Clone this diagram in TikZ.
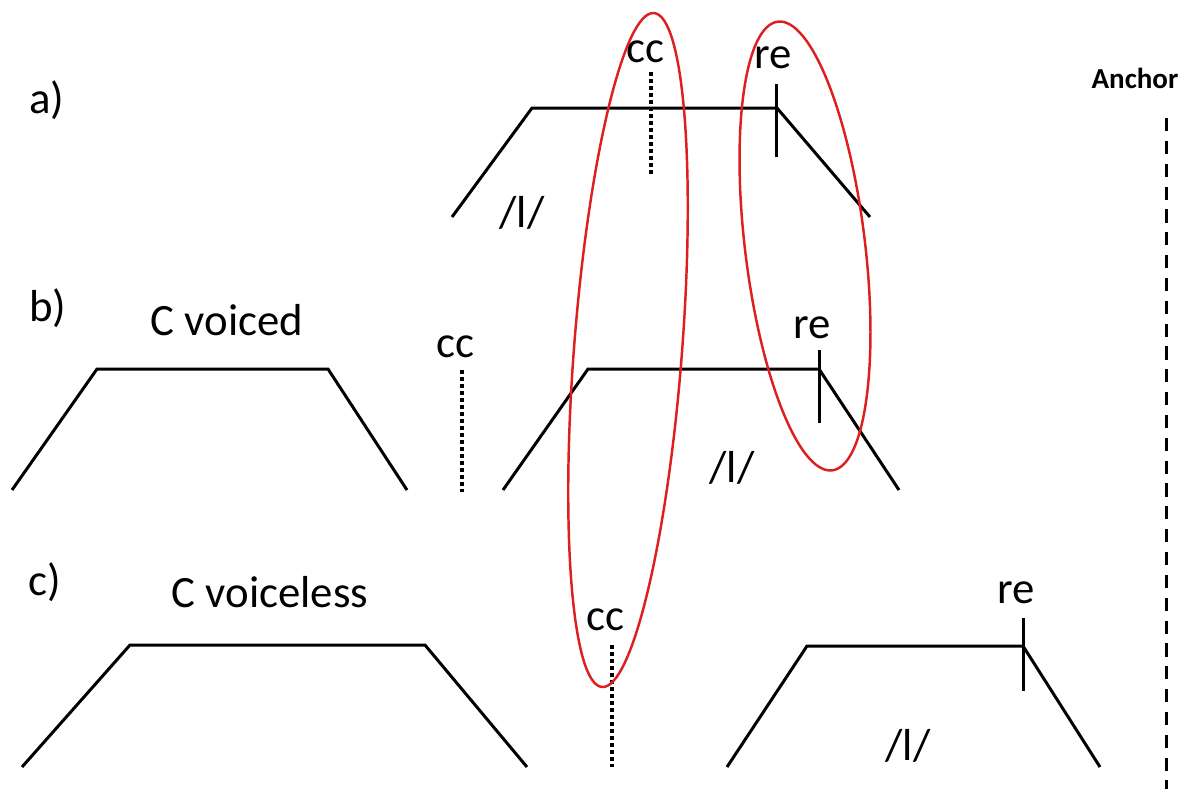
\documentclass[tikz,border=0pt]{standalone}
\usepackage{fontspec}
\setmainfont{Carlito}
\usetikzlibrary{positioning}
\definecolor{ringred}{HTML}{DD1F1F}

\begin{document}
\begin{tikzpicture}[
      x=0.02cm, y=-0.02cm,
      lbl/.style={inner sep=0pt, font=\fontsize{25.5}{30}\selectfont},
      tag/.style={inner sep=0pt, font=\fontsize{16.5}{19}\selectfont\bfseries},
      gesture/.style={line width=1.7pt, line join=miter},
      mark line/.style={line width=1.7pt},
      cc line/.style={line width=2pt, dash pattern=on 2pt off 2pt},
      ring/.style={draw=ringred, line width=1.4pt},
      anchor line/.style={line width=1.7pt, dash pattern=on 7.5pt off 5.5pt}
    ]
    \useasboundingbox (0,0) rectangle (1194,789);

    % row labels
    \node[lbl] (rowa) at (47,100) {a)};
    \node[lbl] (rowb) at (48,308) {b)};
    \node[lbl] (rowc) at (45,582) {c)};

    % a) the lateral alone
    \draw[gesture] (452,217) -- (532,108) -- (777,108) -- (870,217);
    \node[lbl] (la) at (522,213) {/l/};
    \node[lbl] (cca) at (645,52) {cc};
    \draw[cc line] (651,72) -- (651,177);
    \node[lbl] (rea) at (773,58) {re};
    \draw[mark line] (776,84) -- (776,157);

    % b) voiced consonant before the lateral
    \draw[gesture] (12,490) -- (97,369) -- (328,369) -- (407,490);
    \node[lbl] (cvoiced) at (227,320) {C voiced};
    \node[lbl] (ccb) at (455,347) {cc};
    \draw[cc line] (462,370) -- (462,492);
    \draw[gesture] (503,490) -- (588,369) -- (819,369) -- (899,490);
    \node[lbl] (lb) at (732,468) {/l/};
    \node[lbl] (reb) at (812,328) {re};
    \draw[mark line] (819,350) -- (819,423);

    % c) voiceless consonant before the lateral
    \draw[gesture] (22,767) -- (130,645) -- (425,645) -- (527,767);
    \node[lbl] (cvoiceless) at (270,592) {C voiceless};
    \node[lbl] (ccc) at (605,620) {cc};
    \draw[cc line] (612,645) -- (612,767);
    \draw[gesture] (727,767) -- (807,646) -- (1023,646) -- (1100,767);
    \node[lbl] (lc) at (908,746) {/l/};
    \node[lbl] (rec) at (1016,593) {re};
    \draw[mark line] (1023,618) -- (1023,691);

    % anchor
    \node[tag] (anchor) at (1135,78) {Anchor};
    \draw[anchor line] (1166,118) -- (1166,789);

    % red rings
    \draw[ring, rotate around={85.6:(628,350)}] (628,350) ellipse (338 and 54);
    \draw[ring, rotate around={96.9:(805,246)}] (805,246) ellipse (226 and 60);
  \end{tikzpicture}
\end{document}
